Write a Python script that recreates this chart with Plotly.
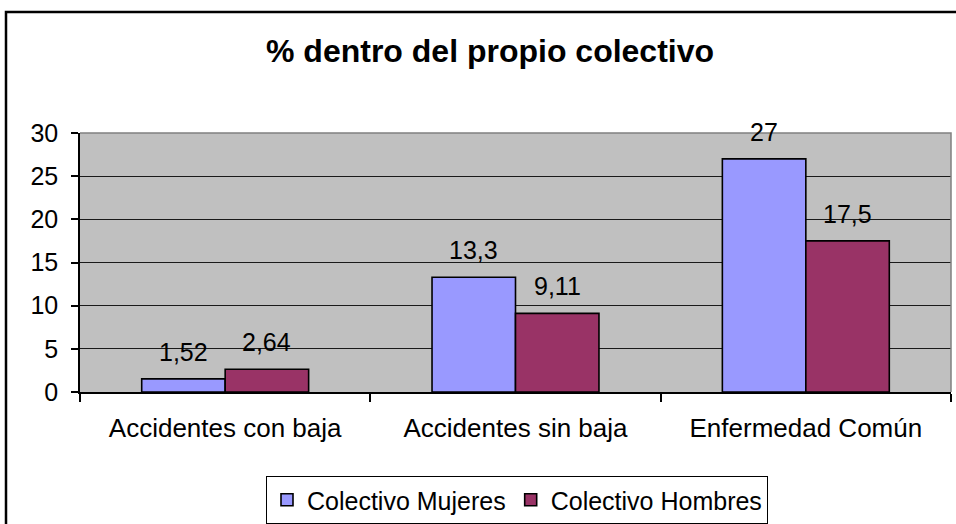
import plotly.graph_objects as go

# Chart data
categories = ["Accidentes con baja", "Accidentes sin baja", "Enfermedad Común"]
mujeres = [1.52, 13.3, 27]
hombres = [2.64, 9.11, 17.5]
series_names = ["Colectivo Mujeres", "Colectivo Hombres"]
y_ticks = [0, 5, 10, 15, 20, 25, 30]

W, H = 956, 524
M_L, M_R, M_T, M_B = 80, 5, 133, 132
BARGAP = 0.425
FONT = "Liberation Sans, Arial, sans-serif"
COL_M = "#9999FF"
COL_H = "#993366"

plot_w = W - M_L - M_R
plot_h = H - M_T - M_B


def fmt(v):
    return f"{v:g}".replace(".", ",")


fig = go.Figure()
for name, vals, col in [(series_names[0], mujeres, COL_M), (series_names[1], hombres, COL_H)]:
    fig.add_trace(go.Bar(
        name=name, x=categories, y=vals,
        marker=dict(color=col, line=dict(color="black", width=1.6)),
        hoverinfo="skip",
    ))

# value labels above each bar
cat_px = plot_w / len(categories)
bar_px = cat_px * (1 - BARGAP) / 2
annotations = []
for vals, shift in [(mujeres, -bar_px / 2), (hombres, bar_px / 2)]:
    for c, v in zip(categories, vals):
        annotations.append(dict(
            x=c, y=v, xref="x", yref="y", text=fmt(v), showarrow=False,
            xshift=shift, yshift=27, yanchor="middle",
            font=dict(family=FONT, size=25, color="black"),
        ))

# chart title
annotations.append(dict(
    x=(490 - M_L) / plot_w, y=(H - M_B - 51) / plot_h, xref="paper", yref="paper",
    text="<b>% dentro del propio colectivo</b>", showarrow=False,
    xanchor="center", yanchor="middle",
    font=dict(family=FONT, size=32, color="black"),
))

shapes = [
    # outer chart frame
    dict(type="rect", xref="paper", yref="paper",
         x0=(6 - M_L) / plot_w, x1=1.2, y0=-1.0, y1=(H - M_B - 12) / plot_h,
         line=dict(color="black", width=2.5), layer="below"),
    # top and right edges of the plot area
    dict(type="path", xref="paper", yref="paper", path="M 0,1 L 1,1 L 1,0",
         line=dict(color="#808080", width=1.5), layer="above"),
]

fig.update_layout(
    width=W, height=H,
    margin=dict(l=M_L, r=M_R, t=M_T, b=M_B, autoexpand=False),
    paper_bgcolor="white", plot_bgcolor="#C0C0C0",
    barmode="group", bargap=BARGAP, bargroupgap=0,
    font=dict(family=FONT, color="black"),
    showlegend=True,
    legend=dict(
        orientation="h", x=(266 - M_L) / plot_w, y=(H - M_B - 476) / plot_h,
        xanchor="left", yanchor="top",
        bordercolor="black", borderwidth=1, bgcolor="white",
        font=dict(family=FONT, size=25, color="black"),
        traceorder="normal",
    ),
    annotations=annotations,
    shapes=shapes,
)
fig.update_xaxes(
    type="category", showline=True, linecolor="black", linewidth=1.5,
    ticks="outside", tickson="boundaries", ticklen=8, tickcolor="black", tickwidth=1.5,
    tickfont=dict(family=FONT, size=26, color="black"), ticklabelstandoff=12,
    showgrid=False, fixedrange=True,
)
fig.update_yaxes(
    range=[0, 30], tickvals=y_ticks, ticktext=[str(t) for t in y_ticks],
    showline=True, linecolor="black", linewidth=1.5,
    ticks="outside", ticklen=7, tickcolor="black", tickwidth=1.5,
    tickfont=dict(family=FONT, size=25, color="black"), ticklabelstandoff=8,
    showgrid=True, gridcolor="#1a1a1a", gridwidth=1, zeroline=False, fixedrange=True,
)

fig.write_html("out.html", config={"displayModeBar": False})
